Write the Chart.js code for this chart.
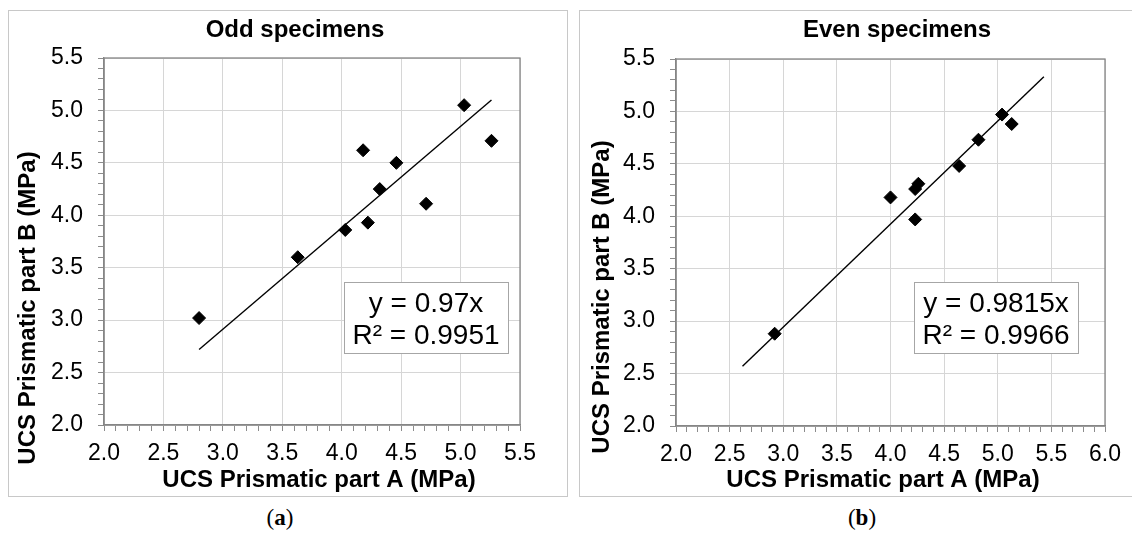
<!DOCTYPE html>
<html><head><meta charset="utf-8">
<script src="https://cdn.jsdelivr.net/npm/chart.js@4.4.1/dist/chart.umd.min.js"></script>
<style>
html,body{margin:0;padding:0;background:#fff;width:1132px;height:534px;overflow:hidden;}
.box{position:absolute;border:1px solid #c8c8c8;box-sizing:border-box;}
#boxA{left:8px;top:10px;width:560px;height:487px;}
#boxB{left:579px;top:10px;width:570px;height:487px;}
canvas{position:absolute;}
#cA{left:9px;top:11px;}
#cB{left:580px;top:11px;}
.cap{position:absolute;top:505px;font-family:"Liberation Serif","DejaVu Serif",serif;font-size:23px;line-height:26px;color:#000;transform:translateX(-50%);}
</style></head>
<body>
<div class="box" id="boxA"></div><div class="box" id="boxB"></div>
<canvas id="cA" width="557" height="485"></canvas>
<canvas id="cB" width="552" height="485"></canvas>
<div class="cap" style="left:280px">(<b>a</b>)</div>
<div class="cap" style="left:862px">(<b>b</b>)</div>
<script>
// ---- data ----
const oddA  = [5.03, 5.26, 4.18, 4.46, 4.32, 4.71, 4.03, 4.22, 3.63, 2.80];
const oddB  = [5.05, 4.71, 4.62, 4.50, 4.25, 4.11, 3.86, 3.93, 3.60, 3.02];
const evenA = [5.04, 5.13, 4.82, 4.64, 4.26, 4.23, 4.00, 4.23, 2.92];
const evenB = [4.97, 4.88, 4.73, 4.48, 4.31, 4.26, 4.18, 3.97, 2.88];
const oddTrendA  = [2.80, 5.26];
const oddTrendB  = [2.72, 5.10];
const evenTrendA = [2.62, 5.43];
const evenTrendB = [2.57, 5.33];
const oddXTicks  = ['2.0','2.5','3.0','3.5','4.0','4.5','5.0','5.5'];
const evenXTicks = ['2.0','2.5','3.0','3.5','4.0','4.5','5.0','5.5','6.0'];
const yTicks     = ['2.0','2.5','3.0','3.5','4.0','4.5','5.0','5.5'];
const oddEq  = ['y = 0.97x', 'R² = 0.9951'];
const evenEq = ['y = 0.9815x', 'R² = 0.9966'];
const chartTitles = ['Odd specimens', 'Even specimens'];
const xTitle = 'UCS Prismatic part A (MPa)';
const yTitle = 'UCS Prismatic part B (MPa)';

Chart.defaults.font.family = '"Liberation Sans", Arial, sans-serif';
Chart.defaults.color = '#000';

function pts(xs, ys){ return xs.map((x,i)=>({x, y: ys[i]})); }

function axis(labels, fitFn, pad){
  const vals = labels.map(Number);
  const min = vals[0], max = vals[vals.length-1];
  const isMajor = v => vals.some(x => Math.abs(x - v) < 1e-6);
  return {
    type:'linear', min, max,
    afterBuildTicks(s){
      const t = [];
      const n = Math.round((max - min) * 10);
      for (let k = 0; k <= n; k++) t.push({value: Math.round((min + k * 0.1) * 10) / 10});
      s.ticks = t;
    },
    afterFit: fitFn,
    ticks:{ autoSkip:false, maxRotation:0, padding:pad, color:'#000', font:{size:23},
      callback(v){ const i = vals.findIndex(x => Math.abs(x - v) < 1e-6); return i >= 0 ? labels[i] : ''; } },
    grid:{ color: c => (c.tick && isMajor(c.tick.value)) ? '#d6d6d6' : 'rgba(0,0,0,0)',
      tickColor:'#8c8c8c', tickLength:6, lineWidth:1, tickWidth:1 },
    border:{ display:true, color:'#868686', width:1.3 }
  };
}

function makeChart(id, o){
  const deco = {
    id:'deco'+id,
    beforeDatasetsDraw(chart){
      const {ctx, chartArea:a} = chart;
      ctx.save(); ctx.strokeStyle = '#868686'; ctx.lineWidth = 1.3;
      ctx.strokeRect(a.left, a.top, a.right - a.left, a.bottom - a.top);
      ctx.restore();
    },
    afterDraw(chart){
      const ctx = chart.ctx;
      ctx.save();
      ctx.fillStyle = '#000';
      ctx.textAlign = 'center'; ctx.textBaseline = 'alphabetic';
      ctx.font = 'bold 24px "Liberation Sans", Arial, sans-serif';
      ctx.fillText(o.title, o.titleX, o.titleY);
      ctx.fillText(xTitle, o.xtX, o.xtY);
      ctx.save();
      ctx.translate(o.ytX, o.ytY); ctx.rotate(-Math.PI/2);
      ctx.fillText(yTitle, 0, 0);
      ctx.restore();
      // equation box
      const b = o.eqBox;
      ctx.fillStyle = '#fff'; ctx.fillRect(b[0], b[1], b[2]-b[0], b[3]-b[1]);
      ctx.strokeStyle = '#a6a6a6'; ctx.lineWidth = 1;
      ctx.strokeRect(b[0]+0.5, b[1]+0.5, b[2]-b[0], b[3]-b[1]);
      ctx.fillStyle = '#000';
      ctx.font = '28px "Liberation Sans", Arial, sans-serif';
      ctx.textBaseline = 'middle';
      const cx = (b[0]+b[2])/2;
      ctx.fillText(o.eq[0], cx, b[1] + 22);
      ctx.fillText(o.eq[1], cx, b[1] + 54);
      ctx.restore();
    }
  };
  return new Chart(document.getElementById(id), {
    type:'scatter',
    data:{ datasets:[
      { type:'scatter', data: pts(o.a, o.b), pointStyle:'rectRot', pointRadius:6.5, pointHoverRadius:6.5,
        backgroundColor:'#000', borderColor:'#000', borderWidth:1, order:1 },
      { type:'line', data: pts(o.ta, o.tb), borderColor:'#000', borderWidth:1.4, pointRadius:0,
        fill:false, tension:0, order:2 }
    ]},
    options:{
      responsive:false, animation:false, events:[],
      layout:{ padding:{ left:0, top:o.padTop, right:o.padRight, bottom:0 } },
      plugins:{ legend:{display:false}, tooltip:{enabled:false}, title:{display:false} },
      scales:{
        x: Object.assign(axis(o.xTicks, s => { s.height = o.xH; }, 9), {position:'bottom'}),
        y: Object.assign(axis(yTicks, s => { s.width = o.yW; }, 15), {position:'left'})
      }
    },
    plugins:[deco]
  });
}

makeChart('cA', { a:oddA, b:oddB, ta:oddTrendA, tb:oddTrendB, xTicks:oddXTicks, eq:oddEq,
  title:chartTitles[0], titleX:286, titleY:26, xtX:310, xtY:476, ytX:26, ytY:297,
  eqBox:[335, 271, 499, 342], padTop:47, padRight:46, xH:71, yW:95 });
makeChart('cB', { a:evenA, b:evenB, ta:evenTrendA, tb:evenTrendB, xTicks:evenXTicks, eq:evenEq,
  title:chartTitles[1], titleX:317, titleY:26, xtX:303, xtY:476, ytX:29, ytY:286,
  eqBox:[334, 271, 498, 342], padTop:48, padRight:27, xH:70, yW:96 });
</script>
</body></html>
